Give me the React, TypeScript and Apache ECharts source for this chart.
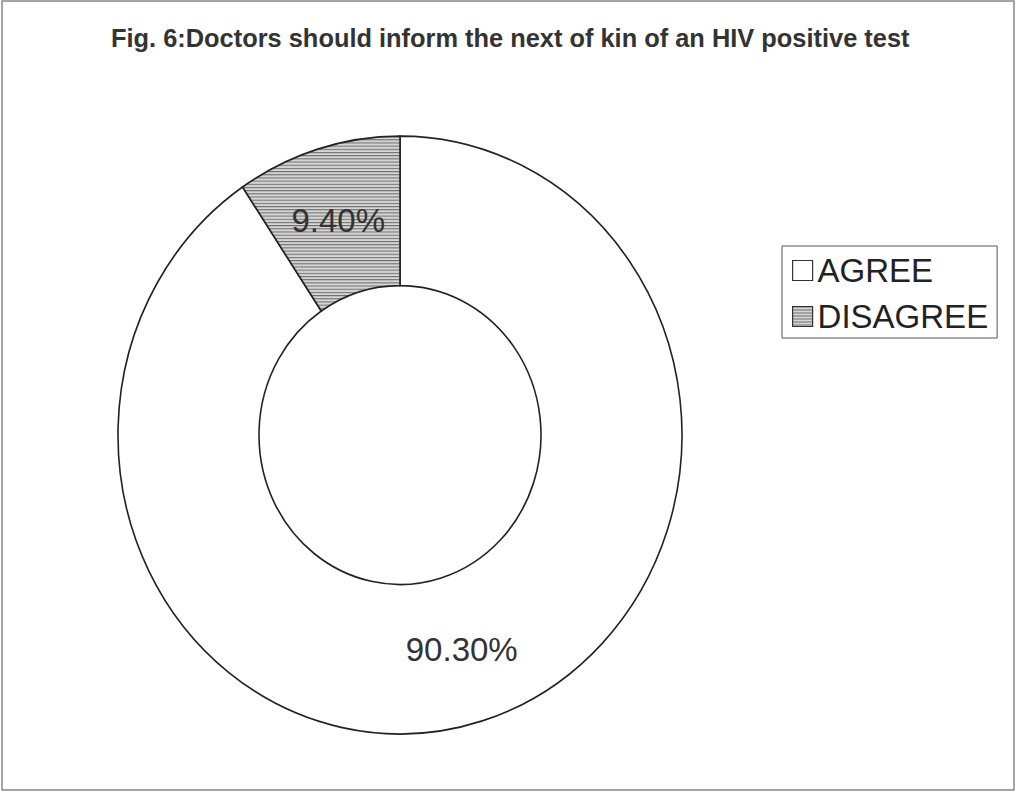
import React, { useEffect, useRef } from 'react';
import * as echarts from 'echarts';

const titleText = 'Fig. 6:Doctors should inform the next of kin of an HIV positive test';
const categories = ['AGREE', 'DISAGREE'];
const values = [90.3, 9.4];
const valueLabels = ['90.30%', '9.40%'];

const hatchSvg =
  "<svg xmlns='http://www.w3.org/2000/svg' width='4' height='3'>" +
  "<rect width='4' height='3' fill='#d6d6d6'/><rect width='4' height='1' fill='#6e6e6e'/></svg>";
const hatch = {
  image: 'data:image/svg+xml;charset=utf-8,' + encodeURIComponent(hatchSvg),
  repeat: 'repeat',
  imageWidth: 4,
  imageHeight: 3,
};
const fills: any[] = ['#ffffff', hatch];

const FONT = '"Liberation Sans", Arial, sans-serif';
const CX = 400;
const CY = 435;
const R = 282;
const R0 = 141;
const SY = 299 / 282;

export default function App() {
  const ref = useRef<HTMLDivElement>(null);
  useEffect(() => {
    if (!ref.current) return;
    const chart = echarts.init(ref.current, null, { renderer: 'svg' });
    const total = values.reduce((a, b) => a + b, 0);
    const series = categories.map((name, i) => {
      const before = values.slice(0, i).reduce((a, b) => a + b, 0);
      return {
        type: 'custom',
        name,
        coordinateSystem: 'none',
        silent: true,
        data: [[values[i]]],
        itemStyle: { color: fills[i], borderColor: '#222', borderWidth: 1.5 },
        renderItem: (_params: any, api: any) => {
          const v = api.value(0);
          const start = -Math.PI / 2 + (2 * Math.PI * before) / total;
          const end = start + (2 * Math.PI * v) / total;
          const mid = (start + end) / 2;
          const rm = (R + R0) / 2;
          return {
            type: 'group',
            x: CX,
            y: CY,
            children: [
              {
                type: 'group',
                scaleY: SY,
                children: [
                  {
                    type: 'sector',
                    shape: { cx: 0, cy: 0, r: R, r0: R0, startAngle: start, endAngle: end, clockwise: true },
                    style: { fill: fills[i], stroke: '#222', lineWidth: 1.6 },
                  },
                ],
              },
              {
                type: 'text',
                x: rm * Math.cos(mid),
                y: rm * SY * Math.sin(mid),
                style: {
                  text: valueLabels[i],
                  fill: '#333',
                  fontSize: 33,
                  fontFamily: FONT,
                  align: 'center',
                  verticalAlign: 'middle',
                },
              },
            ],
          };
        },
      };
    });
    chart.setOption({
      animation: false,
      backgroundColor: '#ffffff',
      title: {
        text: titleText,
        left: 106,
        top: 20,
        textStyle: { fontSize: 25.4, fontWeight: 'bold', fontFamily: FONT, color: '#333' },
      },
      legend: {
        orient: 'vertical',
        left: 782,
        top: 246,
        padding: [8, 9, 5, 10],
        borderColor: '#555',
        borderWidth: 1,
        itemWidth: 20,
        itemHeight: 20,
        itemGap: 13,
        icon: 'rect',
        selectedMode: false,
        textStyle: { fontSize: 33, fontFamily: FONT, color: '#222' },
        data: categories.map((name, i) => ({
          name,
          itemStyle: { color: fills[i], borderColor: '#333', borderWidth: 1.2 },
        })),
      },
      graphic: [
        {
          type: 'rect',
          shape: { x: 2, y: 1, width: 1012, height: 789 },
          style: { fill: 'none', stroke: '#888', lineWidth: 1.5 },
          silent: true,
        },
      ],
      series,
    });
    return () => chart.dispose();
  }, []);
  return (
    <div
      ref={ref}
      style={{ position: 'fixed', left: 0, top: 0, width: 1017, height: 794 }}
    />
  );
}
